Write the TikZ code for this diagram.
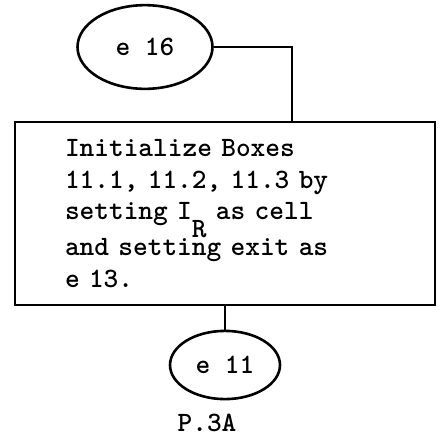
\documentclass[tikz,border=0pt]{standalone}
\usepackage{tikz}
\usetikzlibrary{calc,shapes.geometric}

\begin{document}
\begin{tikzpicture}[x=1pt, y=-1pt,
    entry/.style={ellipse, draw=black, line width=2.6pt, minimum width=#1, minimum height=#1*0.62, inner sep=0pt, font=\fontsize{28}{30}\selectfont\ttfamily\bfseries},
    stepbox/.style={rectangle, draw=black, line width=1.8pt, minimum width=420pt, minimum height=183pt, text width=320pt, inner xsep=50pt, align=left, font=\fontsize{28}{31.5}\selectfont\ttfamily\bfseries},
    caption/.style={font=\fontsize{28}{30}\selectfont\ttfamily\bfseries},
    link/.style={line width=1.6pt}]

    \useasboundingbox (0,0) rectangle (441,448);

    \node[entry=135pt] at (145,47) (e16) {e 16};
    \node[stepbox] at (225,213.5) (init) {Initialize Boxes\\11.1, 11.2, 11.3 by\\setting I\raisebox{-0.62em}{R} as cell\\and setting exit as\\e 13.};
    \node[entry=110pt] at (225,365) (e11) {e 11};
    \node[caption] at (207,423) (page) {P.3A};

    \draw[link] (e16.east) -| ($(init.north)+(67,0)$);
    \draw[link] (init.south) -- (e11.north);
\end{tikzpicture}
\end{document}
